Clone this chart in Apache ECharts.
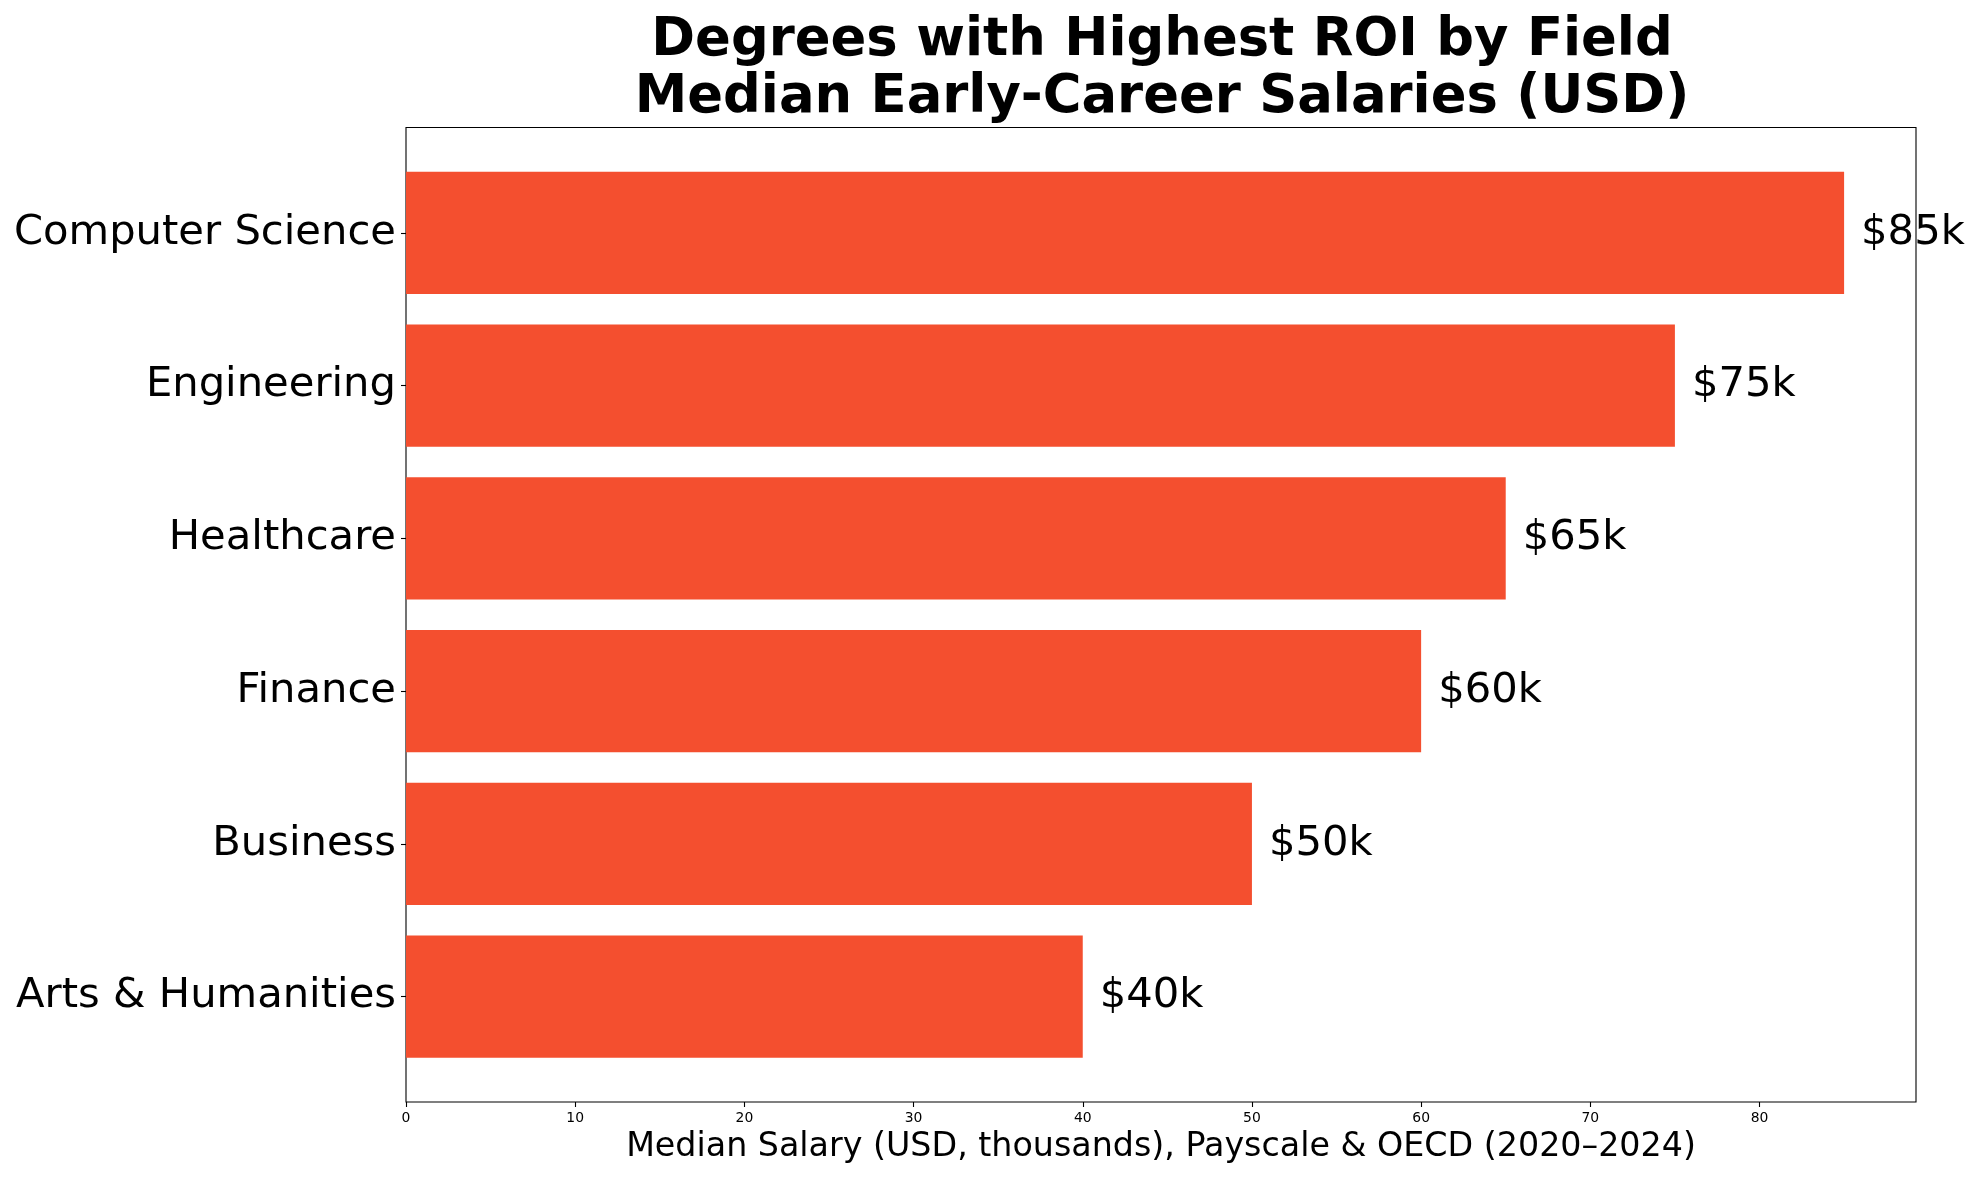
<!DOCTYPE html>
<html>
<head>
<meta charset="utf-8">
<script src="https://cdn.jsdelivr.net/npm/echarts@6/dist/echarts.min.js"></script>
<style>
html,body{margin:0;padding:0;background:#fff;}
#chart{width:1979px;height:1180px;}
</style>
</head>
<body>
<div id="chart"></div>
<script>
const categories = ["Computer Science", "Engineering", "Healthcare", "Finance", "Business", "Arts & Humanities"];
const salaries = [85, 75, 65, 60, 50, 40];
const xTickValues = [0, 10, 20, 30, 40, 50, 60, 70, 80];
const titleText = "Degrees with Highest ROI by Field\nMedian Early-Career Salaries (USD)";
const xAxisTitle = "Median Salary (USD, thousands), Payscale & OECD (2020\u20132024)";

const FONT = "DejaVu Sans";
const xMax = Math.max(...salaries) * 1.05;

const chart = echarts.init(document.getElementById('chart'), null, {renderer: 'canvas'});
chart.setOption({
  animation: false,
  backgroundColor: '#ffffff',
  title: {
    text: titleText,
    left: 1157,
    textAlign: 'center',
    top: 8,
    textStyle: {fontFamily: FONT, fontWeight: 'bold', fontSize: 52.8, lineHeight: 57, color: '#000'}
  },
  grid: [
    {left: 406, right: 63, top: 127.5, bottom: 78, show: true, borderColor: '#000', borderWidth: 1.1, backgroundColor: 'transparent'},
    {left: 406, right: 63, top: 156.5, bottom: 107, show: false}
  ],
  xAxis: [
    {
      type: 'value', gridIndex: 0, min: 0, max: xMax, interval: 10,
      splitLine: {show: false},
      axisLine: {show: false},
      axisTick: {show: true, length: 5, lineStyle: {color: '#000', width: 1.1}, customValues: xTickValues},
      axisLabel: {show: true, margin: 9, fontFamily: FONT, fontSize: 13.9, color: '#000', customValues: xTickValues},
      name: xAxisTitle, nameLocation: 'middle', nameGap: 29,
      nameTextStyle: {fontFamily: FONT, fontSize: 33.3, color: '#000'}
    },
    {
      type: 'value', gridIndex: 1, min: 0, max: xMax, show: false
    }
  ],
  yAxis: [
    {type: 'value', gridIndex: 0, show: false},
    {
      type: 'category', gridIndex: 1, data: categories, inverse: true,
      axisLine: {show: false},
      axisTick: {show: true, length: 5, alignWithLabel: true, lineStyle: {color: '#000', width: 1.1}},
      axisLabel: {margin: 10, fontFamily: FONT, fontSize: 41.7, color: '#000', padding: [7, 0, 0, 0]},
      splitLine: {show: false}
    }
  ],
  series: [{
    type: 'bar',
    xAxisIndex: 1, yAxisIndex: 1,
    data: salaries,
    barCategoryGap: '20%',
    itemStyle: {color: '#F44F2F'},
    label: {
      show: true, position: 'right', distance: 17,
      fontFamily: FONT, fontSize: 41.7, color: '#000',
      padding: [3, 0, 0, 0],
      formatter: p => '$' + p.value + 'k'
    }
  }]
});
</script>
</body>
</html>
